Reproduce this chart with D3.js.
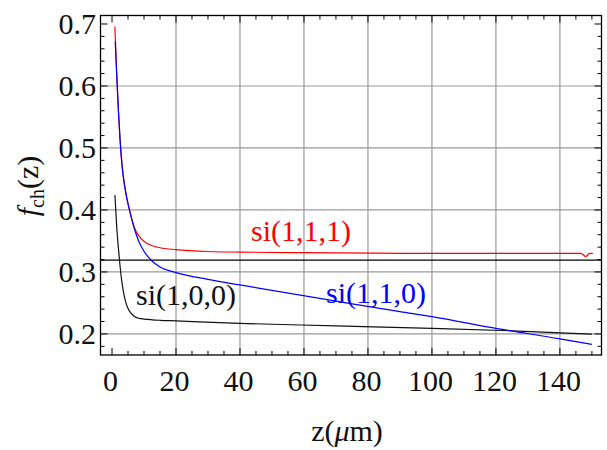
<!DOCTYPE html>
<html>
<head>
<meta charset="utf-8">
<script src="https://cdn.jsdelivr.net/npm/d3@7"></script>
<style>
  body { margin: 0; background: #fff; }
</style>
</head>
<body>
<div id="chart"></div>
<script>
// si(1,1,1) - red
var zRed = [0.9, 1.5, 2.0, 2.5, 3.0, 3.5, 4.6, 5.6, 7.2, 8.7, 11.3, 15, 20, 30, 40, 60, 100, 146.5, 147.5, 148, 148.6, 149.3, 150.3];
var fRed = [0.696, 0.615, 0.56, 0.515, 0.48, 0.455, 0.42, 0.397, 0.369, 0.356, 0.345, 0.339, 0.336, 0.333, 0.332, 0.331, 0.330, 0.330, 0.327, 0.3248, 0.327, 0.330, 0.330];
// si(1,1,0) - blue
var zBlue = [1.0, 1.5, 2.0, 2.5, 3.0, 3.5, 4.6, 5.6, 7.2, 8.5, 9.8, 12.4, 15, 20, 30, 40, 71, 90, 100, 120, 140, 150];
var fBlue = [0.672, 0.615, 0.56, 0.515, 0.48, 0.455, 0.42, 0.397, 0.366, 0.348, 0.335, 0.318, 0.308, 0.299, 0.288, 0.279, 0.252, 0.236, 0.228, 0.209, 0.192, 0.183];
// si(1,0,0) - black
var zBlack = [0.9, 1.5, 2.0, 2.5, 3.0, 3.5, 4.2, 5.0, 6.0, 7.0, 8.5, 10, 15, 20, 40, 70, 100, 125, 150];
var fBlack = [0.424, 0.37, 0.338, 0.31, 0.287, 0.27, 0.253, 0.241, 0.233, 0.228, 0.225, 0.224, 0.222, 0.221, 0.217, 0.213, 0.209, 0.205, 0.1995];
// horizontal reference line
var fRef = 0.319;

var xTicks = [0, 20, 40, 60, 80, 100, 120, 140];
var yTicks = [0.2, 0.3, 0.4, 0.5, 0.6, 0.7];
var xGrid = [20, 40, 60, 80, 100, 120, 140];
var yGrid = [0.2, 0.3, 0.4, 0.5, 0.6];
var labels = ["si(1,1,1)", "si(1,1,0)", "si(1,0,0)"];

var W = 607, H = 450;
var FONT = "'Liberation Serif'";
var svg = d3.select("#chart").append("svg")
    .attr("width", W)
    .attr("height", H);

var x = d3.scaleLinear().domain([-3.6, 153]).range([100.5, 601.5]);
var y = d3.scaleLinear().domain([0.166, 0.7137]).range([355, 15.5]);

// grid
svg.selectAll(".gx").data(xGrid).enter().append("line")
    .attr("x1", function(d){ return x(d); })
    .attr("x2", function(d){ return x(d); })
    .attr("y1", y.range()[0]).attr("y2", y.range()[1])
    .attr("stroke", "#9a9a9a").attr("stroke-width", 1.2);
svg.selectAll(".gy").data(yGrid).enter().append("line")
    .attr("y1", function(d){ return y(d); })
    .attr("y2", function(d){ return y(d); })
    .attr("x1", x.range()[0]).attr("x2", x.range()[1])
    .attr("stroke", "#9a9a9a").attr("stroke-width", 1.2);

// ticks, inward on all four sides
var xMinor = d3.range(0, 151, 5);
var yMinor = d3.range(0.18, 0.7001, 0.02);
function isMajorX(d){ return d % 20 === 0; }
function isMajorY(d){ return Math.abs(Math.round(d*10) - d*10) < 1e-6; }

var ticks = svg.append("g").attr("stroke", "#000").attr("stroke-width", 1);
xMinor.forEach(function(d){
    var len = isMajorX(d) ? 7 : 4;
    ticks.append("line").attr("x1", x(d)).attr("x2", x(d))
        .attr("y1", y.range()[0]).attr("y2", y.range()[0] - len);
    ticks.append("line").attr("x1", x(d)).attr("x2", x(d))
        .attr("y1", y.range()[1]).attr("y2", y.range()[1] + len);
});
yMinor.forEach(function(d){
    var len = isMajorY(d) ? 7 : 4;
    ticks.append("line").attr("y1", y(d)).attr("y2", y(d))
        .attr("x1", x.range()[0]).attr("x2", x.range()[0] + len);
    ticks.append("line").attr("y1", y(d)).attr("y2", y(d))
        .attr("x1", x.range()[1]).attr("x2", x.range()[1] - len);
});

// frame
svg.append("rect")
    .attr("x", x.range()[0]).attr("y", y.range()[1])
    .attr("width", x.range()[1] - x.range()[0])
    .attr("height", y.range()[0] - y.range()[1])
    .attr("fill", "none").attr("stroke", "#000").attr("stroke-width", 1.3);

// tick labels
svg.selectAll(".xl").data(xTicks).enter().append("text")
    .attr("x", function(d){ return x(d) - 1.5; })
    .attr("y", 391)
    .attr("text-anchor", "middle")
    .style("font-family", FONT)
    .attr("font-size", 30)
    .attr("fill", "#111")
    .text(function(d){ return d; });
svg.selectAll(".yl").data(yTicks).enter().append("text")
    .attr("x", 96)
    .attr("y", function(d){ return y(d) + 10; })
    .attr("text-anchor", "end")
    .style("font-family", FONT)
    .attr("font-size", 30)
    .attr("fill", "#111")
    .text(function(d){ return d3.format(".1f")(d); });

// reference line
svg.append("line")
    .attr("x1", x.range()[0]).attr("x2", x.range()[1])
    .attr("y1", y(fRef)).attr("y2", y(fRef))
    .attr("stroke", "#000").attr("stroke-width", 1.3);

// curves
var line = d3.line()
    .x(function(d){ return x(d[0]); })
    .y(function(d){ return y(d[1]); })
    .curve(d3.curveMonotoneX);
function pairs(zs, fs){ return zs.map(function(z, i){ return [z, fs[i]]; }); }

svg.append("path").attr("d", line(pairs(zBlack, fBlack)))
    .attr("fill", "none").attr("stroke", "#111").attr("stroke-width", 1.2);
svg.append("path").attr("d", line(pairs(zRed, fRed)))
    .attr("fill", "none").attr("stroke", "#ff0000").attr("stroke-width", 1.2);
svg.append("path").attr("d", line(pairs(zBlue, fBlue)))
    .attr("fill", "none").attr("stroke", "#0000ff").attr("stroke-width", 1.2);

// curve labels
function label(px, py, txt, col){
    svg.append("text").attr("x", px).attr("y", py)
        .style("font-family", FONT).attr("font-size", 30)
        .attr("fill", col).text(txt);
}
label(251, 241, labels[0], "#ff0000");
label(326, 303, labels[1], "#0000ff");
label(136, 305, labels[2], "#111");

// axis titles
var xt = svg.append("text").attr("x", 347).attr("y", 441)
    .attr("text-anchor", "middle").style("font-family", FONT)
    .attr("font-size", 30).attr("fill", "#111");
xt.append("tspan").text("z(");
xt.append("tspan").attr("font-style", "italic").text("\u03BC");
xt.append("tspan").text("m)");

var yt = svg.append("text")
    .attr("transform", "translate(38,186) rotate(-90)")
    .attr("text-anchor", "middle").style("font-family", FONT)
    .attr("font-size", 30).attr("fill", "#111");
yt.append("tspan").attr("font-style", "italic").text("f");
yt.append("tspan").attr("font-size", 20).attr("dy", 6).text("ch");
yt.append("tspan").attr("dy", -6).text("(z)");
</script>
</body>
</html>
